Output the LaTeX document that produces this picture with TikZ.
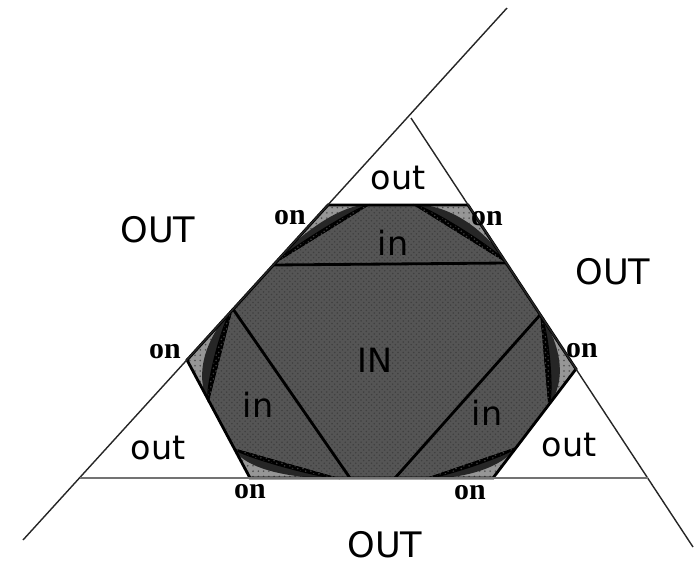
\documentclass[tikz,border=0pt]{standalone}
\usepackage{fontspec}
\setmainfont{DejaVu Sans}
\newfontfamily\onfont{Liberation Serif}
\usetikzlibrary{calc,patterns}
\definecolor{ongray}{RGB}{150,150,150}
\definecolor{lensgray}{RGB}{190,190,190}
\definecolor{ingray}{RGB}{85,85,85}

\begin{document}
\begin{tikzpicture}[x=0.02cm,y=-0.02cm,
thinline/.style={line width=0.8pt,black!85},
edge/.style={line width=1.6pt,black},
onfill/.style={fill=ongray,postaction={pattern=dots,pattern color=black!70}},
infill/.style={fill=ingray,postaction={pattern=crosshatch dots,pattern color=black!75}},
bigtext/.style={font=\fontsize{20}{22}\selectfont},
smalltext/.style={font=\fontsize{19}{21}\selectfont},
ontext/.style={font=\onfont\bfseries\fontsize{17}{19}\selectfont}]
\useasboundingbox (0,0) rectangle (700,566);
% hexagon (triangle with cut corners)
\coordinate (A) at (328,205);
\coordinate (B) at (468,205);
\coordinate (C) at (576,369);
\coordinate (D) at (493,478);
\coordinate (E) at (250,478);
\coordinate (F) at (187,360);
% dark region
\coordinate (d1) at (370,205);
\coordinate (d2) at (413,205);
\coordinate (d3) at (506,263);
\coordinate (d4) at (540,315);
\coordinate (d5) at (548,405);
\coordinate (d6) at (516,447);
\coordinate (d7) at (425,478);
\coordinate (d8) at (340,478);
\coordinate (d9) at (234,448);
\coordinate (d10) at (209,402);
\coordinate (d11) at (233,309);
\coordinate (d12) at (273,265);
\coordinate (b1) at (350,478);
\coordinate (b2) at (395,478);
% outer lines
\coordinate (L1a) at (23,540);
\coordinate (L1b) at (507,8);
\coordinate (L2a) at (411,118);
\coordinate (L2b) at (693,547);
\coordinate (H1) at (80,478);
\coordinate (H2) at (648,478);

\fill[onfill] (A) -- (B) -- (C) -- (D) -- (E) -- (F) -- cycle;
\foreach \p/\c/\q in {d12/A/d1,d2/B/d3,d4/C/d5,d6/D/d7,d8/E/d9,d10/F/d11}{
  \filldraw[fill=lensgray,thinline] (\p) .. controls ($(\p)!0.62!(\c)$) and ($(\q)!0.62!(\c)$) .. (\q);
  \filldraw[fill=ongray,thinline] (\p) .. controls ($(\p)!0.42!(\c)$) and ($(\q)!0.42!(\c)$) .. (\q);
  \filldraw[infill,line width=1.2pt,black] (\p) .. controls ($(\p)!0.22!(\c)$) and ($(\q)!0.22!(\c)$) .. (\q);
}
\fill[infill] (d1) -- (d2) -- (d3) -- (d4) -- (d5) -- (d6) -- (d7) -- (d8) -- (d9) -- (d10) -- (d11) -- (d12) -- cycle;
\draw[edge] (A) -- (B) -- (C) -- (D) -- (E) -- (F) -- cycle;
% chords
\draw[edge] (d12) -- (d3);
\draw[edge] (d11) -- (b1);
\draw[edge] (d4) -- (b2);
\draw[thinline] (L1a) -- (L1b);
\draw[thinline] (L2a) -- (L2b);
\draw[line width=1.4pt,black!55] (H1) -- (H2);

\node[bigtext] (outL) at (158,230) {OUT};
\node[bigtext] (outR) at (613,272) {OUT};
\node[bigtext] (outB) at (385,545) {OUT};
\node[smalltext] (cutA) at (398,178) {out};
\node[smalltext] (cutE) at (158,448) {out};
\node[smalltext] (cutD) at (569,445) {out};
\node[smalltext] (inA) at (393,243) {in};
\node[smalltext] (inF) at (258,405) {in};
\node[smalltext] (inC) at (487,413) {in};
\node[smalltext] (inner) at (375,360) {IN};
\node[ontext] (onA) at (290,218) {on};
\node[ontext] (onB) at (487,219) {on};
\node[ontext] (onF) at (165,352) {on};
\node[ontext] (onC) at (582,351) {on};
\node[ontext] (onE) at (250,492) {on};
\node[ontext] (onD) at (470,493) {on};
\end{tikzpicture}
\end{document}
